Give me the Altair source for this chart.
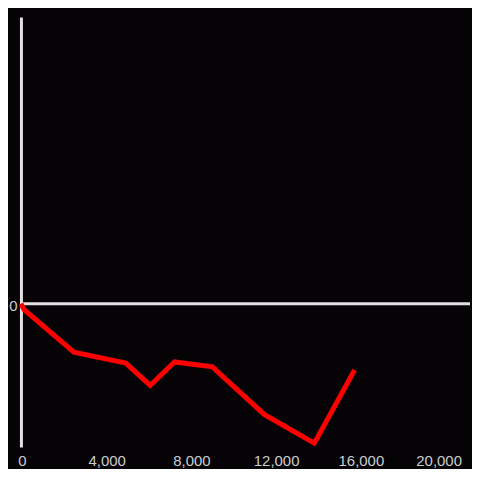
import altair as alt
import pandas as pd

x_values = [0, 150, 2500, 4950, 6100, 7250, 9050, 9220, 11500, 13850, 15750]
y_values = [0, -2.1, -16.9, -20.7, -28.5, -20.3, -22.0, -23.3, -38.7, -48.6, -23.1]
zero_line = [0]
x_ticks = [0, 4000, 8000, 12000, 16000, 20000]
y_ticks = [0]

df = pd.DataFrame({"x": x_values, "y": y_values, "order": list(range(len(x_values)))})
zero_df = pd.DataFrame({"y": zero_line})

x_scale = alt.Scale(domain=[0, 21200], nice=False)
y_scale = alt.Scale(domain=[-50, 100], nice=False)

rule = alt.Chart(zero_df).mark_rule(color="#e0e0e0", strokeWidth=3).encode(
    y=alt.Y("y:Q", scale=y_scale)
)

line = alt.Chart(df).mark_line(color="#ff0000", strokeWidth=5, strokeJoin="miter").encode(
    x=alt.X(
        "x:Q",
        scale=x_scale,
        title=None,
        axis=alt.Axis(
            values=x_ticks,
            format=",d",
            domain=False,
            ticks=False,
            grid=False,
            labelFlush=False,
            labelColor="#cccccc",
            labelFont="Liberation Sans",
            labelFontSize=15,
            labelPadding=6,
            labelOffset={"condition": {"test": "datum.value == 20000", "value": -6}, "value": 1},
        ),
    ),
    y=alt.Y(
        "y:Q",
        scale=y_scale,
        title=None,
        axis=alt.Axis(
            values=y_ticks,
            domain=True,
            domainColor="#e0e0e0",
            domainWidth=3,
            ticks=False,
            grid=False,
            labelFlush=False,
            labelColor="#cccccc",
            labelFont="Liberation Sans",
            labelFontSize=15,
            labelPadding=4,
            labelOffset=1.5,
        ),
    ),
    order="order:Q",
)

chart = (
    alt.layer(rule, line)
    .properties(
        width=451,
        height=432,
        background="#050306",
        padding={"left": 0, "top": 8, "right": 0, "bottom": 0},
    )
    .configure_view(stroke=None)
)

chart.save("out.html", embed_options={"renderer": "svg", "actions": False})
